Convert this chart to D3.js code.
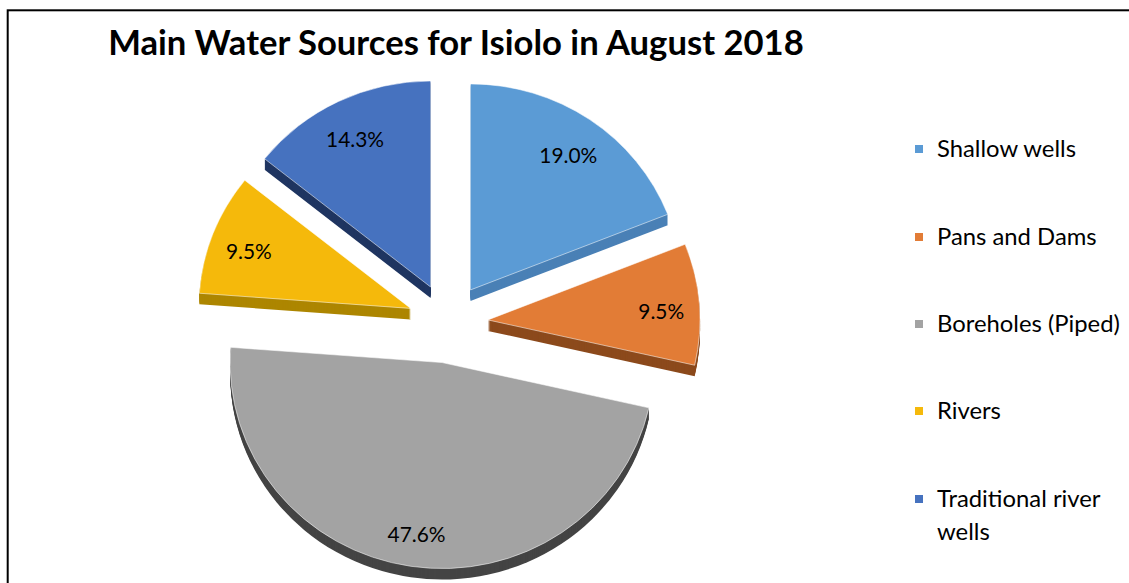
<!DOCTYPE html>
<html><head><meta charset="utf-8">
<script src="https://cdn.jsdelivr.net/npm/d3@7"></script>
<style>html,body{margin:0;padding:0;background:#fff;} svg{display:block;font-family:Lato, "Open Sans", sans-serif;}</style>
</head><body>
<svg id="c" width="1129" height="583"></svg>
<script>
const categories = ["Shallow wells","Pans and Dams","Boreholes (Piped)","Rivers","Traditional river wells"];
const values = [19.0, 9.5, 47.6, 9.5, 14.3];
const valueLabels = ["19.0%","9.5%","47.6%","9.5%","14.3%"];
const legendLines = [["Shallow wells"],["Pans and Dams"],["Boreholes (Piped)"],["Rivers"],["Traditional river","wells"]];
const topColors = ["#5b9bd5","#e27c36","#a3a3a3","#f5b90b","#4672bf"];
const sideColors = ["#4a80b6","#8c4a1c","#444444","#ad8600","#1f3561"];
const title = "Main Water Sources for Isiolo in August 2018";

const svg = d3.select("#c");
const W = 1129, H = 583;

// border
svg.append("rect").attr("x",7.7).attr("y",10.3).attr("width",1200).attr("height",700)
  .attr("fill","none").attr("stroke","#000").attr("stroke-width",2);

// title fitted to width
function fit(sel, target){
  const fs = parseFloat(sel.attr("font-size"));
  const w = sel.node().getComputedTextLength();
  sel.attr("font-size", fs*target/w);
}
const t = svg.append("text").attr("x",456).attr("y",55).attr("text-anchor","middle")
  .attr("font-weight","bold").attr("font-size",30).attr("fill","#000").text(title);
fit(t, 696);

// pie
const cx = 448, cy = 323, rx = 212, ry = 206, explode = 40, depth = 11;
const pie = d3.pie().sort(null).value(d=>d).startAngle(0).endAngle(2*Math.PI);
const arcs = pie(values);
const arc = d3.arc().innerRadius(0).outerRadius(rx);
const sy = ry/rx;

const g = svg.append("g");
arcs.forEach((a,i)=>{
  const mid = (a.startAngle+a.endAngle)/2;
  const ax = cx + explode*Math.sin(mid);
  const ay = cy - explode*Math.cos(mid);
  const sg = g.append("g");
  for(let k=depth;k>=1;k--){
    sg.append("path").attr("transform",`translate(${ax},${ay+k}) scale(1,${sy})`)
      .attr("d",arc(a)).attr("fill",sideColors[i]);
  }
  sg.append("path").attr("transform",`translate(${ax},${ay}) scale(1,${sy})`)
    .attr("d",arc(a)).attr("fill",topColors[i])
    .attr("stroke","#ffffff").attr("stroke-opacity",0.55).attr("stroke-width",1);
  const lr = 0.82*rx;
  const lx = ax + lr*Math.sin(mid), ly = ay - lr*Math.cos(mid)*sy + 5;
  sg.append("text").attr("x",lx).attr("y",ly).attr("dy","0.35em")
    .attr("text-anchor","middle").attr("font-size",20).attr("fill","#000").text(valueLabels[i]);
});
{
  const labs = g.selectAll("text");
  const first = labs.nodes()[0];
  const w = first.getComputedTextLength();
  labs.attr("font-size", 20*58/w);
}

// legend
const legY = [149, 237, 324, 411, 499];
const lg = svg.append("g");
let legFs = 20;
legendLines.forEach((lines,i)=>{
  lg.append("rect").attr("x",915).attr("y",legY[i]-4).attr("width",8).attr("height",8).attr("fill",topColors[i]);
  lines.forEach((ln,j)=>{
    lg.append("text").attr("x",937).attr("y",legY[i]+j*33).attr("dy","0.35em")
      .attr("font-size",legFs).attr("fill","#000").text(ln);
  });
});
{
  const first = lg.selectAll("text").nodes()[0];
  const w = first.getComputedTextLength();
  lg.selectAll("text").attr("font-size", legFs*139/w);
}
</script>
</body></html>
